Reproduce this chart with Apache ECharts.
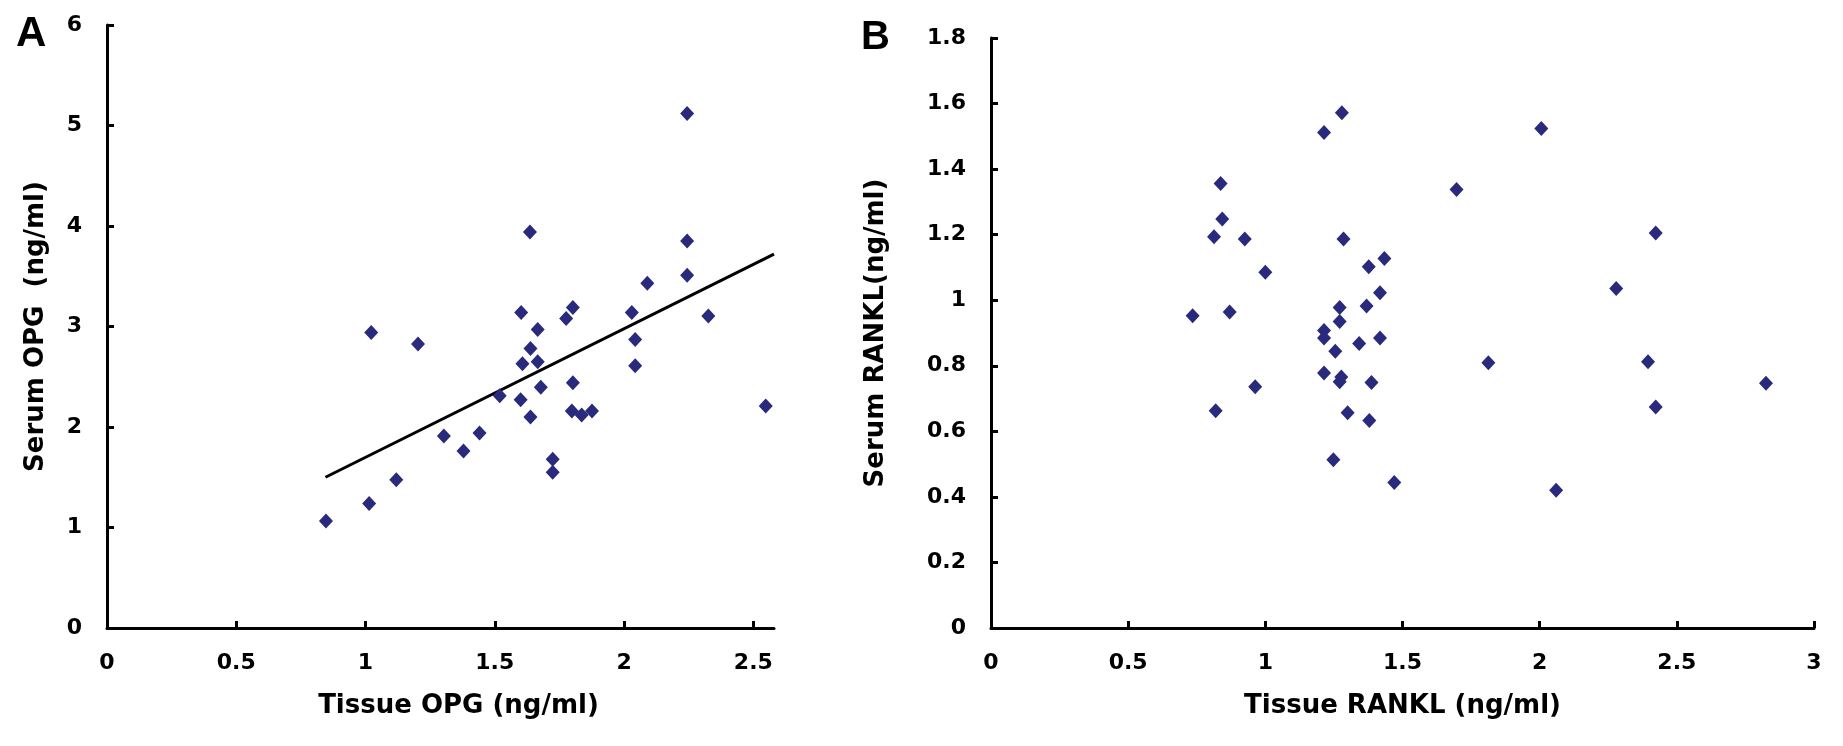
<!DOCTYPE html>
<html>
<head>
<meta charset="UTF-8">
<title>OPG / RANKL</title>
<script src="https://cdn.jsdelivr.net/npm/echarts@6/dist/echarts.min.js"></script>
<style>
  html, body { margin: 0; padding: 0; background: #fff; }
  #chart { width: 1843px; height: 746px; }
</style>
</head>
<body>
<div id="chart"></div>
<script>
// panel A: tissue OPG vs serum OPG
var opgTissue = [0.847, 1.014, 1.119, 1.022, 1.203, 1.303, 1.379, 1.441, 1.519, 1.600,
                 1.602, 1.607, 1.636, 1.638, 1.666, 1.666, 1.638, 1.678, 1.724, 1.724,
                 1.776, 1.802, 1.802, 1.798, 1.836, 1.876, 2.030, 2.043, 2.043, 2.090,
                 2.244, 2.244, 2.244, 2.326, 2.548];
var opgSerum  = [1.065, 1.24, 1.475, 2.94, 2.825, 1.91, 1.76, 1.94, 2.31, 2.27,
                 3.14, 2.63, 3.94, 2.78, 2.97, 2.65, 2.10, 2.395, 1.68, 1.55,
                 3.08, 3.19, 2.44, 2.16, 2.12, 2.16, 3.14, 2.87, 2.61, 3.43,
                 5.12, 3.85, 3.51, 3.105, 2.21];
// trend line ends as drawn
var fitX = [0.845, 2.58];
var fitY = [1.50, 3.72];

// panel B: tissue RANKL vs serum RANKL
var rankTissue = [0.735, 0.819, 0.813, 0.837, 0.843, 0.870, 0.925, 0.963, 1.000, 1.214,
                  1.279, 1.214, 1.214, 1.214, 1.255, 1.248, 1.271, 1.271, 1.277, 1.271,
                  1.285, 1.300, 1.342, 1.369, 1.377, 1.387, 1.379, 1.418, 1.434, 1.418,
                  1.470, 1.697, 1.813, 2.006, 2.060, 2.279, 2.395, 2.423, 2.423, 2.825];
var rankSerum  = [0.953, 0.663, 1.194, 1.356, 1.248, 0.964, 1.187, 0.736, 1.085, 1.512,
                  1.572, 0.908, 0.885, 0.778, 0.844, 0.513, 0.978, 0.935, 0.766, 0.751,
                  1.187, 0.657, 0.868, 0.982, 1.102, 0.749, 0.633, 1.023, 1.127, 0.885,
                  0.444, 1.338, 0.809, 1.524, 0.420, 1.036, 0.812, 0.674, 1.205, 0.747];

var ticksA = [0, 0.5, 1, 1.5, 2, 2.5];

function pairs(xs, ys) {
    var out = [];
    for (var i = 0; i < xs.length; i++) out.push([xs[i], ys[i]]);
    return out;
}

var font = 'DejaVu Sans';
var dotColor = '#2a2a7c';
var axisLine = { show: true, onZero: false, lineStyle: { color: '#000', width: 3 } };
var tick = { show: true, inside: true, length: 7, lineStyle: { color: '#000', width: 3 } };
var labelStyle = { color: '#000', fontFamily: font, fontWeight: 'bold', fontSize: 22 };
var titleStyle = { color: '#000', fontFamily: font, fontWeight: 'bold', fontSize: 26 };

var chart = echarts.init(document.getElementById('chart'), null, { renderer: 'canvas' });

var option = {
    animation: false,
    backgroundColor: '#fff',
    graphic: [
        { type: 'text', left: 16, top: 13, style: { text: 'A', fill: '#000', font: 'bold 42px "Liberation Sans"' } },
        { type: 'text', left: 861, top: 18, style: { text: 'B', fill: '#000', font: 'bold 40px "Liberation Sans"' } }
    ],
    grid: [
        { left: 107, top: 25, width: 667, height: 603 },
        { left: 991, top: 38, width: 823, height: 590 }
    ],
    xAxis: [
        {
            gridIndex: 0, type: 'value', min: 0, max: 2.58, interval: 0.5,
            name: 'Tissue OPG (ng/ml)', nameLocation: 'middle', nameGap: 65,
            nameTextStyle: Object.assign({ padding: [0, 0, 0, 36] }, titleStyle),
            axisLine: axisLine,
            axisTick: Object.assign({ customValues: ticksA.slice(1) }, tick),
            axisLabel: Object.assign({ margin: 24, customValues: ticksA }, labelStyle),
            splitLine: { show: false }
        },
        {
            gridIndex: 1, type: 'value', min: 0, max: 3, interval: 0.5,
            name: 'Tissue RANKL (ng/ml)', nameLocation: 'middle', nameGap: 65,
            nameTextStyle: titleStyle,
            axisLine: axisLine, axisTick: tick,
            axisLabel: Object.assign({ margin: 24 }, labelStyle),
            splitLine: { show: false }
        }
    ],
    yAxis: [
        {
            gridIndex: 0, type: 'value', min: 0, max: 6, interval: 1,
            name: 'Serum OPG  (ng/ml)', nameLocation: 'middle', nameGap: 58,
            nameTextStyle: titleStyle,
            axisLine: axisLine, axisTick: tick,
            axisLabel: Object.assign({ margin: 25 }, labelStyle),
            splitLine: { show: false }
        },
        {
            gridIndex: 1, type: 'value', min: 0, max: 1.8, interval: 0.2,
            name: 'Serum RANKL(ng/ml)', nameLocation: 'middle', nameGap: 102,
            nameTextStyle: titleStyle,
            axisLine: axisLine, axisTick: tick,
            axisLabel: Object.assign({ margin: 25 }, labelStyle),
            splitLine: { show: false }
        }
    ],
    series: [
        {
            type: 'line', xAxisIndex: 0, yAxisIndex: 0,
            data: pairs(fitX, fitY), symbol: 'none',
            lineStyle: { color: '#000', width: 3 }, z: 1
        },
        {
            type: 'scatter', xAxisIndex: 0, yAxisIndex: 0,
            data: pairs(opgTissue, opgSerum),
            symbol: 'diamond', symbolSize: [14, 15],
            itemStyle: { color: dotColor, opacity: 1 }, z: 2
        },
        {
            type: 'scatter', xAxisIndex: 1, yAxisIndex: 1,
            data: pairs(rankTissue, rankSerum),
            symbol: 'diamond', symbolSize: [14, 15],
            itemStyle: { color: dotColor, opacity: 1 }, z: 2
        }
    ]
};
chart.setOption(option);
</script>
</body>
</html>
